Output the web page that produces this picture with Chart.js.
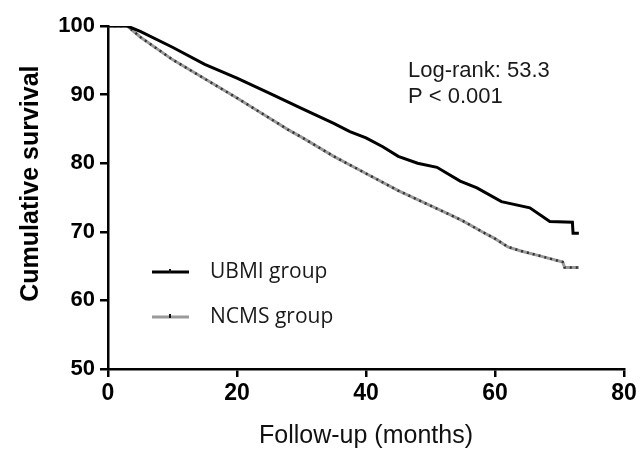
<!DOCTYPE html>
<html lang="en">
<head>
    <meta charset="UTF-8">
    <title>Cumulative survival</title>
    <style>
        html, body { margin: 0; padding: 0; background: #fff; }
    </style>
</head>
<body>
    <canvas id="myChart" width="640" height="451"></canvas>
    <script src="https://cdn.jsdelivr.net/npm/chart.js@4.4.1/dist/chart.umd.min.js"></script>
    <script>

        // values
        const ubmiMonths = [0, 3, 5, 10, 15, 20, 25, 30, 35, 37.5, 40, 42.6, 45, 48, 51, 54.6, 57.2, 61, 65.4, 68.5, 72, 72.1, 73];
        const ubmiSurv   = [100, 100, 99.2, 96.9, 94.4, 92.4, 90.2, 88.0, 85.8, 84.6, 83.7, 82.4, 81.0, 80.0, 79.4, 77.4, 76.4, 74.4, 73.5, 71.5, 71.4, 69.8, 69.8];

        const ncmsMonths = [0, 3, 5, 10, 15, 20, 25, 27.9, 30, 35, 40, 45, 50, 53, 55, 58, 60, 62, 64, 66.5, 70.5, 70.8, 73];
        const ncmsSurv   = [100, 100, 98.4, 95.1, 92.3, 89.5, 86.6, 84.9, 83.8, 81.0, 78.5, 76.0, 73.8, 72.5, 71.6, 70.0, 69.0, 67.8, 67.2, 66.6, 65.6, 64.8, 64.8];

        const xTicks = [0, 20, 40, 60, 80];
        const yTicks = [50, 60, 70, 80, 90, 100];

        const groupNames = ['UBMI group', 'NCMS group'];
        const statLines = ['Log-rank: 53.3', 'P < 0.001'];

        function toPoints(xs, ys) {
            return xs.map((x, i) => ({ x: x, y: ys[i] }));
        }

        // legend drawn inside the plot, lower left, plus the test text
        const insideLegend = {
            id: 'insideLegend',
            afterDatasetsDraw(chart) {
                const ctx = chart.ctx;
                const area = chart.chartArea;
                ctx.save();
                [0, 1].forEach((dsIndex, i) => {
                    const ds = chart.data.datasets[dsIndex];
                    const y = area.top + 246 + i * 45;
                    const x0 = area.left + 44;
                    ctx.strokeStyle = ds.borderColor;
                    ctx.lineWidth = 3;
                    ctx.beginPath();
                    ctx.moveTo(x0, y);
                    ctx.lineTo(x0 + 37, y);
                    ctx.stroke();
                    ctx.fillStyle = '#111';
                    ctx.fillRect(x0 + 17, y - 3, 2, 4);
                    ctx.font = '21px "Open Sans"';
                    ctx.textBaseline = 'middle';
                    ctx.fillStyle = '#1a1a1a';
                    ctx.fillText(groupNames[i], x0 + 58, y);
                });

                const xs = chart.scales.x, ys = chart.scales.y;
                ctx.font = '22px Arial, "Liberation Sans"';
                ctx.fillStyle = '#1a1a1a';
                ctx.textBaseline = 'middle';
                ctx.fillText(statLines[0], xs.getPixelForValue(46.5), ys.getPixelForValue(93.4));
                ctx.fillText(statLines[1], xs.getPixelForValue(46.5), ys.getPixelForValue(89.6));
                ctx.restore();
            }
        };

        const ctx = document.getElementById('myChart').getContext('2d');
        const myChart = new Chart(ctx, {
            type: 'line',
            data: {
                datasets: [
                    {
                        label: groupNames[0],
                        data: toPoints(ubmiMonths, ubmiSurv),
                        borderColor: '#000',
                        borderWidth: 3,
                        pointRadius: 0,
                        tension: 0,
                        order: 0
                    },
                    {
                        label: groupNames[1],
                        data: toPoints(ncmsMonths, ncmsSurv),
                        borderColor: '#9a9a9a',
                        borderWidth: 3,
                        pointRadius: 0,
                        tension: 0,
                        order: 2
                    },
                    {
                        // censor ticks along the NCMS curve
                        label: 'ncms-marks',
                        data: toPoints(ncmsMonths, ncmsSurv),
                        borderColor: '#333',
                        borderWidth: 2.5,
                        borderDash: [2, 4],
                        pointRadius: 0,
                        tension: 0,
                        order: 1
                    }
                ]
            },
            options: {
                responsive: false,
                animation: false,
                layout: { padding: { top: 26, right: 16, bottom: 0, left: 0 } },
                plugins: {
                    legend: { display: false },
                    tooltip: { enabled: false }
                },
                scales: {
                    x: {
                        type: 'linear',
                        min: 0,
                        max: 80,
                        afterBuildTicks: axis => { axis.ticks = xTicks.map(v => ({ value: v })); },
                        afterFit: axis => { axis.height = 82; },
                        border: { display: true, color: '#000', width: 2.5 },
                        grid: { display: true, drawOnChartArea: false, drawTicks: true, tickLength: 8, color: '#000', lineWidth: 2.5 },
                        ticks: {
                            color: '#000',
                            padding: 3,
                            maxRotation: 0,
                            font: { family: 'Arial, "Liberation Sans"', size: 23, weight: 'bold' }
                        },
                        title: {
                            display: true,
                            text: 'Follow-up (months)',
                            color: '#111',
                            padding: { top: 0, bottom: 0 },
                            font: { family: 'Arial, "Liberation Sans"', size: 25 }
                        }
                    },
                    y: {
                        min: 50,
                        max: 100,
                        afterBuildTicks: axis => { axis.ticks = yTicks.map(v => ({ value: v })); },
                        afterFit: axis => { axis.width = 108; },
                        border: { display: true, color: '#000', width: 2.5 },
                        grid: { display: true, drawOnChartArea: false, drawTicks: true, tickLength: 8, color: '#000', lineWidth: 2.5 },
                        ticks: {
                            color: '#000',
                            padding: 5,
                            font: { family: 'Arial, "Liberation Sans"', size: 22, weight: 'bold' }
                        },
                        title: {
                            display: true,
                            text: '    Cumulative survival',
                            color: '#000',
                            padding: { top: 16, bottom: 0 },
                            font: { family: 'Arial, "Liberation Sans"', size: 25, weight: 'bold' }
                        }
                    }
                }
            },
            plugins: [insideLegend]
        });

    </script>
</body>
</html>
